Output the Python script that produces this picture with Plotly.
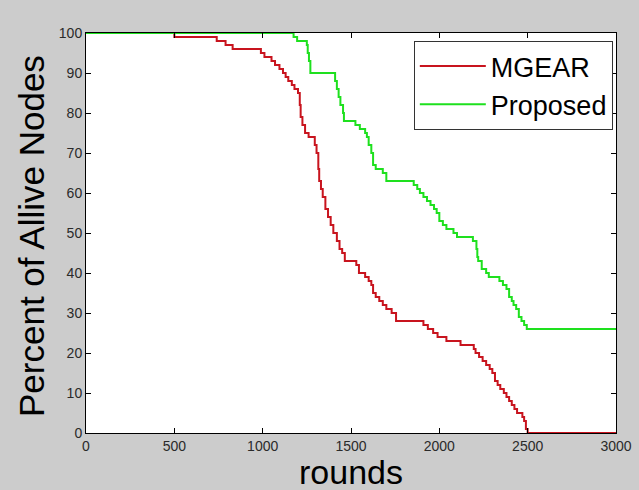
import plotly.graph_objects as go

# Step data (round at which the value starts, percent of alive nodes)
mgear_rounds = [0, 500, 740, 790, 830, 990, 1010, 1050, 1070, 1095, 1115, 1130, 1145, 1165, 1180, 1200,
                1210, 1215, 1225, 1240, 1260, 1295, 1305, 1315, 1320, 1330, 1340, 1355, 1370, 1385, 1400,
                1420, 1435, 1450, 1465, 1530, 1545, 1580, 1600, 1615, 1625, 1640, 1660, 1680, 1700, 1730,
                1755, 1910, 1935, 1965, 1990, 2040, 2120, 2195, 2205, 2225, 2245, 2265, 2285, 2300, 2315,
                2330, 2345, 2365, 2380, 2395, 2410, 2425, 2440, 2470, 2480, 2490, 2500, 3000]
mgear_alive = [100, 99, 98, 97, 96, 95, 94, 93, 92, 91, 90, 89, 88, 87, 86, 85,
               82, 79, 77, 75, 74, 72, 70, 66, 63, 61, 59, 56, 54, 52, 50,
               48, 46, 45, 43, 42, 40, 39, 38, 37, 35, 34, 33, 32, 31, 30,
               28, 27, 26, 25, 24, 23, 22, 21, 20, 19, 18, 17, 16, 15, 13,
               12, 11, 10, 9, 8, 7, 6, 5, 4, 3, 1, 0, 0]

proposed_rounds = [0, 1175, 1195, 1250, 1255, 1262, 1270, 1410, 1420, 1430, 1440, 1455, 1460, 1525, 1550,
                   1580, 1590, 1600, 1615, 1625, 1640, 1680, 1700, 1855, 1875, 1890, 1910, 1930, 1950, 1970,
                   1985, 2000, 2020, 2040, 2080, 2100, 2190, 2210, 2215, 2220, 2240, 2265, 2280, 2340, 2360,
                   2380, 2395, 2410, 2420, 2435, 2450, 2465, 2480, 2495, 3000]
proposed_alive = [100, 99, 98, 97, 95, 93, 90, 88, 86, 84, 82, 80, 78, 77, 76,
                  75, 74, 72, 70, 67, 66, 65, 63, 62, 61, 60, 59, 58, 57, 56,
                  55, 53, 52, 51, 50, 49, 48, 46, 44, 43, 41, 40, 39, 38, 37,
                  36, 34, 33, 32, 31, 29, 28, 27, 26, 26]

x_ticks = [0, 500, 1000, 1500, 2000, 2500, 3000]
y_ticks = [0, 10, 20, 30, 40, 50, 60, 70, 80, 90, 100]

FONT = "Liberation Sans, Arial"

fig = go.Figure()
fig.add_trace(go.Scatter(x=mgear_rounds, y=mgear_alive, mode="lines", name="MGEAR",
                         line=dict(color="#c8141e", width=2, shape="hv")))
fig.add_trace(go.Scatter(x=proposed_rounds, y=proposed_alive, mode="lines", name="Proposed",
                         line=dict(color="#1ee01e", width=2, shape="hv")))

axis_common = dict(showgrid=False, zeroline=False, showline=True, linecolor="black", linewidth=1,
                   mirror="ticks", ticks="inside", ticklen=5, tickcolor="black", automargin=False,
                   tickfont=dict(family=FONT, size=14, color="#2a2a2a"))

fig.update_layout(
    width=639, height=490,
    paper_bgcolor="#cccccc", plot_bgcolor="white",
    margin=dict(l=86, r=23, t=33, b=57, autoexpand=False),
    xaxis=dict(range=[0, 3000], tickvals=x_ticks, **axis_common),
    yaxis=dict(range=[0, 100], tickvals=y_ticks, **axis_common),
    legend=dict(x=0.994, y=0.98, xanchor="right", yanchor="top", bgcolor="white",
                bordercolor="#333333", borderwidth=1, itemwidth=66,
                font=dict(family=FONT, size=27, color="black"),
                tracegroupgap=0),
    showlegend=True,
    annotations=[
        dict(text="rounds", xref="paper", yref="paper", x=0.5, y=0, yshift=-39,
             xanchor="center", yanchor="middle", showarrow=False,
             font=dict(family=FONT, size=34, color="black")),
        dict(text="Percent of Allive Nodes", xref="paper", yref="paper", x=0, y=0.5, xshift=-55, yshift=-3,
             xanchor="center", yanchor="middle", showarrow=False, textangle=-90,
             font=dict(family=FONT, size=35, color="black")),
    ],
)

fig.write_html("out.html", config={"displayModeBar": False},
               post_script="document.body.style.margin='0px';document.body.style.overflow='hidden';")
